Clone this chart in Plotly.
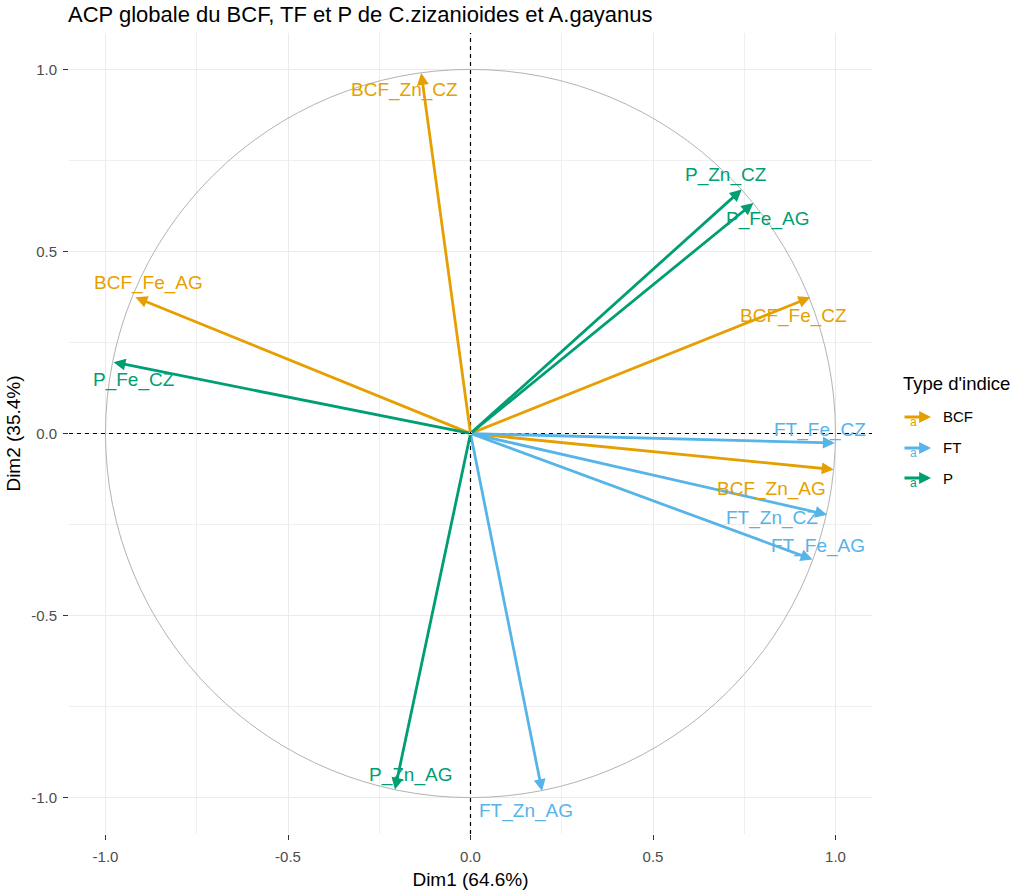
import plotly.graph_objects as go

# ---------------- data ----------------
variables = ["BCF_Zn_CZ", "BCF_Fe_AG", "BCF_Fe_CZ", "BCF_Zn_AG",
             "FT_Fe_CZ", "FT_Zn_CZ", "FT_Fe_AG", "FT_Zn_AG",
             "P_Zn_CZ", "P_Fe_AG", "P_Fe_CZ", "P_Zn_AG"]
var_type = ["BCF", "BCF", "BCF", "BCF",
            "FT", "FT", "FT", "FT",
            "P", "P", "P", "P"]
dim1 = [-0.135, -0.918, 0.931, 0.995,
        0.998, 0.977, 0.937, 0.196,
        0.743, 0.775, -0.978, -0.207]
dim2 = [0.990, 0.374, 0.374, -0.099,
        -0.026, -0.223, -0.346, -0.982,
        0.670, 0.633, 0.196, -0.978]
# label anchor positions (data units)
label_dim1 = [-0.181, -0.881, 0.885, 0.826,
              0.958, 0.826, 0.953, 0.153,
              0.699, 0.815, -0.921, -0.165]
label_dim2 = [0.944, 0.413, 0.324, -0.152,
              0.011, -0.233, -0.308, -1.036,
              0.709, 0.588, 0.146, -0.937]

type_levels = ["BCF", "FT", "P"]
type_colors = {"BCF": "#E69F00", "FT": "#56B4E9", "P": "#009E73"}

tick_vals = [-1.0, -0.5, 0.0, 0.5, 1.0]
tick_text = ["-1.0", "-0.5", "0.0", "0.5", "1.0"]

title_text = "ACP globale du BCF, TF et P de C.zizanioides et A.gayanus"
xlab = "Dim1 (64.6%)"
ylab = "Dim2 (35.4%)"
legend_title = "Type d'indice"

FONT = "Liberation Sans, Arial, sans-serif"

fig = go.Figure()
# invisible trace so axes are set up
fig.add_trace(go.Scatter(x=dim1, y=dim2, mode="markers",
                         marker=dict(opacity=0), showlegend=False,
                         hoverinfo="skip"))

# circle
fig.add_shape(type="circle", xref="x", yref="y", x0=-1, y0=-1, x1=1, y1=1,
              line=dict(color="#B3B3B3", width=1), layer="above")
# dashed zero lines
fig.add_shape(type="line", xref="x", yref="paper", x0=0, x1=0, y0=0, y1=1,
              line=dict(color="#000000", width=1.2, dash="4px,4px"), layer="above")
fig.add_shape(type="line", xref="paper", yref="y", x0=0, x1=1, y0=0, y1=0,
              line=dict(color="#000000", width=1.2, dash="4px,4px"), layer="above")

ARROW = dict(arrowhead=2, arrowsize=0.85, arrowwidth=2.8)

annotations = []
# arrows
for v, t, x, y in zip(variables, var_type, dim1, dim2):
    annotations.append(dict(
        x=x, y=y, ax=0, ay=0, xref="x", yref="y", axref="x", ayref="y",
        text="", showarrow=True, arrowcolor=type_colors[t],
        standoff=0, startstandoff=0, **ARROW))
# labels
for v, t, x, y in zip(variables, var_type, label_dim1, label_dim2):
    annotations.append(dict(
        x=x, y=y, xref="x", yref="y", text=v, showarrow=False,
        font=dict(family=FONT, size=19, color=type_colors[t]),
        xanchor="center", yanchor="middle"))

# manual legend
annotations.append(dict(x=(901 - 69) / 803, y=(834 - 384) / 801,
                        xref="paper", yref="paper",
                        text=legend_title, showarrow=False, xanchor="left",
                        yanchor="middle",
                        font=dict(family=FONT, size=18.5, color="#000000")))
leg_py = [417, 448, 478]
for lv, py in zip(type_levels, leg_py):
    ly = (834 - py) / 801
    annotations.append(dict(x=(913 - 69) / 803, y=(834 - py - 5) / 801,
                            xref="paper", yref="paper",
                            text="a", showarrow=False, xanchor="center",
                            yanchor="middle",
                            font=dict(family=FONT, size=12, color=type_colors[lv])))
    annotations.append(dict(x=(931 - 69) / 803, y=ly, xref="paper", yref="paper",
                            ax=-28, ay=0, text="", showarrow=True,
                            arrowcolor=type_colors[lv], **ARROW))
    annotations.append(dict(x=(941 - 69) / 803, y=ly, xref="paper", yref="paper",
                            text=lv, showarrow=False, xanchor="left",
                            yanchor="middle",
                            font=dict(family=FONT, size=15, color="#000000")))

axis_common = dict(
    tickvals=tick_vals, ticktext=tick_text,
    showgrid=True, gridcolor="#EBEBEB", gridwidth=1.4,
    minor=dict(dtick=0.25, tick0=0, showgrid=True, gridcolor="#EFEFEF",
               gridwidth=0.8),
    zeroline=False, showline=False, automargin=False,
    ticks="outside", ticklen=5, tickwidth=1, tickcolor="#333333",
    tickfont=dict(family=FONT, size=15, color="#4D4D4D"),
    range=[-1.1, 1.1], fixedrange=True,
)

fig.update_layout(
    width=1013, height=892, autosize=False,
    margin=dict(l=69, r=141, t=33, b=58),
    paper_bgcolor="white", plot_bgcolor="white",
    showlegend=False,
    title=dict(text=title_text, x=68 / 1013, xanchor="left", xref="container",
               y=1 - 14 / 892, yanchor="middle", yref="container",
               font=dict(family=FONT, size=22, color="#000000")),
    xaxis=dict(axis_common, ticklabelstandoff=4,
               title=dict(text=xlab, standoff=8,
                          font=dict(family=FONT, size=19, color="#000000"))),
    yaxis=dict(axis_common, ticklabelstandoff=3,
               title=dict(text=ylab, standoff=5,
                          font=dict(family=FONT, size=19, color="#000000"))),
    annotations=annotations,
)

fig.write_html("out.html", config={"displayModeBar": False},
               post_script="document.body.style.margin='0px';")
